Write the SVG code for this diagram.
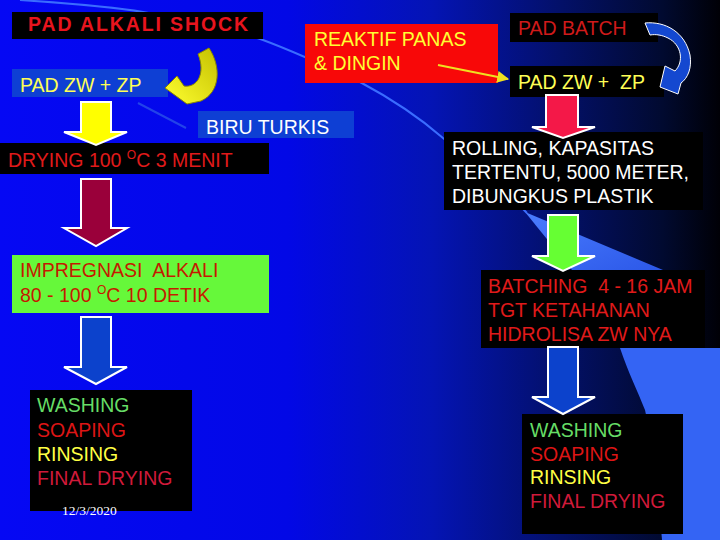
<svg xmlns="http://www.w3.org/2000/svg" width="720" height="540" viewBox="0 0 720 540">
<defs>
<linearGradient id="bg" x1="0" y1="0" x2="1" y2="0">
<stop offset="0" stop-color="#0508f4"/>
<stop offset="0.4" stop-color="#0208e6"/>
<stop offset="0.6" stop-color="#0414b4"/>
<stop offset="0.78" stop-color="#031068"/>
<stop offset="0.92" stop-color="#010a30"/>
<stop offset="1" stop-color="#000006"/>
</linearGradient>
<linearGradient id="wedge" x1="0" y1="0" x2="1" y2="1">
<stop offset="0" stop-color="#4a7cff"/>
<stop offset="1" stop-color="#2c58e8"/>
</linearGradient>
<linearGradient id="ycurve" x1="1" y1="0" x2="0" y2="1">
<stop offset="0" stop-color="#c4c000"/>
<stop offset="1" stop-color="#ffff30"/>
</linearGradient>
<marker id="ah" viewBox="0 0 10 10" refX="9" refY="5" markerWidth="6" markerHeight="6" orient="auto">
<path d="M0,0 L10,5 L0,10 Z" fill="#f0e020"/>
</marker>
<style>
text{font-family:"Liberation Sans",Arial,sans-serif;font-size:19.5px}
.blk{fill:#000}
.bl{fill:#0e3fd4}
.blockarrow{stroke:#ffffff;stroke-width:2;stroke-linejoin:miter}
.red{fill:#e01a1a}
.yel{fill:#ffff55}
.wht{fill:#ffffff}
.grn{fill:#66dd66}
.sred{fill:#dd1515}
.ryel{fill:#ffff44}
.crim{fill:#d01a3a}
</style>
</defs>

<g id="background">
<rect x="0" y="0" width="720" height="540" fill="url(#bg)"/>
<path d="M525,212 L663,270 L572,270 Z" fill="url(#wedge)"/>
<path d="M620,348 C628,372 638,392 645,410 C652,440 658,490 662,540 L720,540 L720,348 Z" fill="#3464f4"/>
<path d="M20,0 C80,4 120,8 143,12 C200,22 240,32 263,40 C290,50 330,68 360,82 C390,98 420,118 443,138 C470,160 500,185 527,213" fill="none" stroke="#3a6cff" stroke-width="2"/>
<path d="M138,103 L186,128" fill="none" stroke="#2a52e8" stroke-width="2" opacity="0.8"/>
</g>

<g id="n-pad-alkali-shock">
<rect class="blk" x="12" y="12" width="251" height="27"/>
<text x="28" y="31" font-weight="bold" font-size="18" fill="#e8141e" textLength="220" lengthAdjust="spacing">PAD ALKALI SHOCK</text>
</g>

<g id="n-pad-zw-zp-left">
<rect class="bl" x="12" y="69" width="156" height="28"/>
<text class="yel" x="20" y="92">PAD ZW + ZP</text>
</g>

<g id="n-biru-turkis">
<rect class="bl" x="198" y="111" width="156" height="27"/>
<text class="wht" x="206" y="134">BIRU TURKIS</text>
</g>

<g id="n-reaktif">
<rect x="305" y="24" width="193" height="59" fill="#f80808"/>
<text x="314" y="46" fill="#ffff33">REAKTIF PANAS</text>
<text x="314" y="70" fill="#ffff33">&amp; DINGIN</text>
</g>

<g id="n-pad-batch">
<rect class="blk" x="510" y="13" width="148" height="29"/>
<text x="518" y="35" fill="#d01a1a">PAD BATCH</text>
</g>

<g id="n-pad-zw-zp-right">
<rect class="blk" x="510" y="66" width="154" height="31"/>
<text class="yel" x="518" y="89" xml:space="preserve">PAD ZW +  ZP</text>
</g>

<g id="n-drying">
<rect class="blk" x="0" y="143" width="269" height="31"/>
<text class="red" x="8" y="167">DRYING 100 <tspan font-size="12" dy="-8">O</tspan><tspan dy="8">C 3 MENIT</tspan></text>
</g>

<g id="n-impregnasi">
<rect x="12" y="255" width="257" height="58" fill="#66f83a"/>
<text x="20" y="277" fill="#c41a00" xml:space="preserve">IMPREGNASI  ALKALI</text>
<text x="20" y="302" fill="#c41a00">80 - 100 <tspan font-size="12" dy="-8">O</tspan><tspan dy="8">C 10 DETIK</tspan></text>
</g>

<g id="n-washing-left">
<rect class="blk" x="30" y="390" width="162" height="121"/>
<text class="grn" x="37" y="412">WASHING</text>
<text class="sred" x="37" y="437">SOAPING</text>
<text class="ryel" x="37" y="461">RINSING</text>
<text class="crim" x="37" y="485">FINAL DRYING</text>
<text x="62" y="515" fill="#ffffff" style="font-family:'Liberation Serif','Times New Roman',serif;font-size:13.5px">12/3/2020</text>
</g>

<g id="n-rolling">
<rect class="blk" x="444" y="132" width="259" height="78"/>
<text class="wht" x="452" y="155">ROLLING, KAPASITAS</text>
<text class="wht" x="452" y="179">TERTENTU, 5000 METER,</text>
<text class="wht" x="452" y="203">DIBUNGKUS PLASTIK</text>
</g>

<g id="n-batching">
<rect class="blk" x="481" y="270" width="224" height="78"/>
<text class="red" x="488" y="293" xml:space="preserve">BATCHING  4 - 16 JAM</text>
<text class="red" x="488" y="317">TGT KETAHANAN</text>
<text class="red" x="488" y="341">HIDROLISA ZW NYA</text>
</g>

<g id="n-washing-right">
<rect class="blk" x="522" y="414" width="161" height="120"/>
<text class="grn" x="530" y="437">WASHING</text>
<text class="sred" x="530" y="461">SOAPING</text>
<text class="ryel" x="530" y="484">RINSING</text>
<text class="crim" x="530" y="508">FINAL DRYING</text>
</g>

<g id="connectors">
<path class="blockarrow" fill="#ffff00" d="M81,102 H111 V132 H127 L96,145 L64,132 H81 Z"/>
<path class="blockarrow" fill="#9a003a" d="M81,179 H111 V228 H127 L96,246 L64,228 H81 Z"/>
<path class="blockarrow" fill="#0c42cc" d="M81,317 H111 V367 H127 L96,384 L64,367 H81 Z"/>
<path class="blockarrow" fill="#f41848" d="M546,95 H578 V127 H595 L563,138 L532,127 H546 Z"/>
<path class="blockarrow" fill="#66ff33" d="M548,215 H578 V256 H595 L563,271 L532,256 H548 Z"/>
<path class="blockarrow" fill="#0c42cc" d="M548,347 H578 V397 H595 L563,414 L532,397 H548 Z"/>
<path d="M198,54 L209,48 C221,66 221,92 201,101 L187,104 L165,88 L177,76 L184,86 C197,88 206,74 198,54 Z" fill="url(#ycurve)" stroke="#8a8600" stroke-width="1"/>
<path d="M645,23 C665,21 685,32 690,55 C692,68 688,78 681,83 L678,94 L660,87 L665,66 L675,71 C684,62 682,45 668,38 C662,35 656,34 650,35 Z" fill="#1448d0" stroke="#ffffff" stroke-width="1"/>
<line x1="438" y1="65" x2="508" y2="79" stroke="#f0e020" stroke-width="2" marker-end="url(#ah)"/>
</g>
</svg>
